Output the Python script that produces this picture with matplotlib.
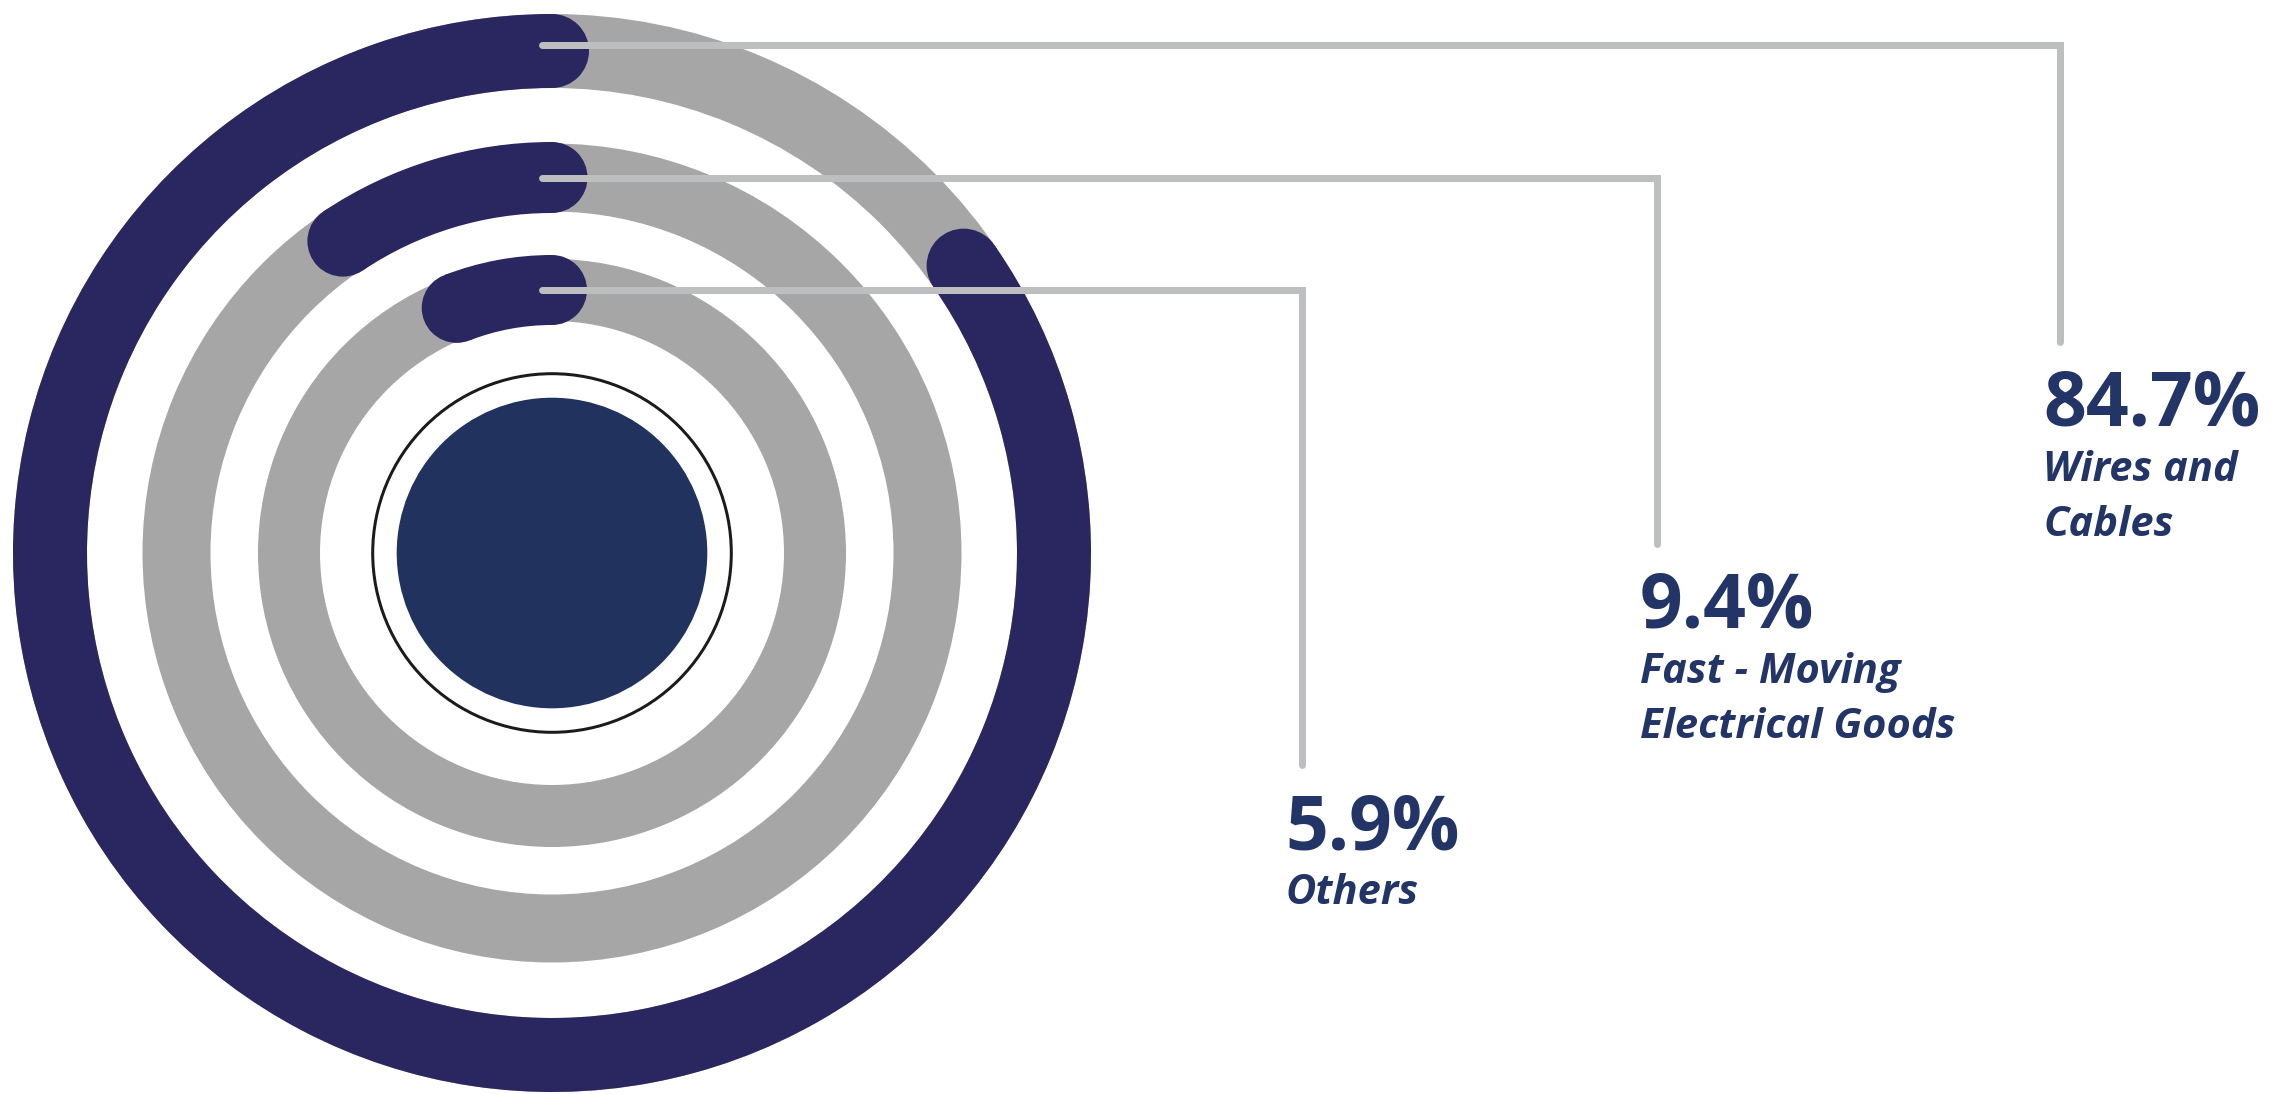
import matplotlib
matplotlib.use("Agg")
import matplotlib.pyplot as plt
import numpy as np
from matplotlib.patches import Circle, Wedge

# shares, outermost ring first
CATEGORIES = ["Wires and\nCables", "Fast - Moving\nElectrical Goods", "Others"]
SHARES = [84.7, 9.4, 5.9]

W, H = 2271, 1094
DPI = 100
PT = 72 / DPI  # pixels -> points

# ring geometry in pixels (outer, middle, inner)
CX, CY = 552, H - 553
RING_R = [502, 375.5, 263]
GRAY_W = [74, 68, 62]
DARK_W = [74, 71, 70]

# leader lines / labels: vertical line x, bottom of vertical line (px from top)
LINE_X = [2060, 1657, 1302]
LINE_BOTTOM = [342, 544, 765]

DARK = "#2a2660"
CORE = "#21325f"
GRAY = "#a6a6a6"
LEADER = "#bcbec0"
TEXT = "#233466"
FONT = ["Open Sans", "DejaVu Sans"]

fig = plt.figure(figsize=(W / DPI, H / DPI), dpi=DPI)
ax = fig.add_axes([0, 0, 1, 1])
ax.set_xlim(0, W)
ax.set_ylim(0, H)
ax.set_aspect("equal")
ax.axis("off")

for i, share in enumerate(SHARES):
    r = RING_R[i]
    # gray background ring
    ax.add_patch(Wedge((CX, CY), r + GRAY_W[i] / 2, 0, 360, width=GRAY_W[i],
                       facecolor=GRAY, edgecolor="none"))
    # dark arc, starting at 12 o'clock and running anticlockwise
    sweep = share / 100 * 360
    ax.add_patch(Wedge((CX, CY), r + DARK_W[i] / 2, 90, 90 + sweep, width=DARK_W[i],
                       facecolor=DARK, edgecolor="none"))
    # round caps
    for a in (90, 90 + sweep):
        t = np.radians(a)
        ax.add_patch(Circle((CX + r * np.cos(t), CY + r * np.sin(t)), DARK_W[i] / 2,
                            facecolor=DARK, edgecolor="none"))

# centre disc and thin outline
ax.add_patch(Circle((CX, CY), 155.3, facecolor=CORE, edgecolor="none"))
ax.add_patch(Circle((CX, CY), 179.3, facecolor="none", edgecolor="#1b1b1b", linewidth=3 * PT))

for i, (share, cat) in enumerate(zip(SHARES, CATEGORIES)):
    y0 = CY + RING_R[i]
    if i == 0:
        y0 += 6
    x1 = LINE_X[i]
    y1 = H - LINE_BOTTOM[i]
    ax.plot([CX - 10, x1, x1], [y0, y0, y1], color=LEADER, linewidth=7 * PT,
            solid_capstyle="round", solid_joinstyle="miter")

    tx = x1 - 17
    base = y1 - 84
    ax.text(tx, base, f"{share}%", ha="left", va="baseline", color=TEXT,
            fontsize=54, fontweight="bold", family=FONT)
    for k, line in enumerate(cat.split("\n")):
        ax.text(tx, base - 55 - 55 * k, line, ha="left", va="baseline", color=TEXT,
                fontsize=30, fontweight="bold", fontstyle="italic", family=FONT)

fig.savefig("out.png", dpi=DPI, facecolor="white")
